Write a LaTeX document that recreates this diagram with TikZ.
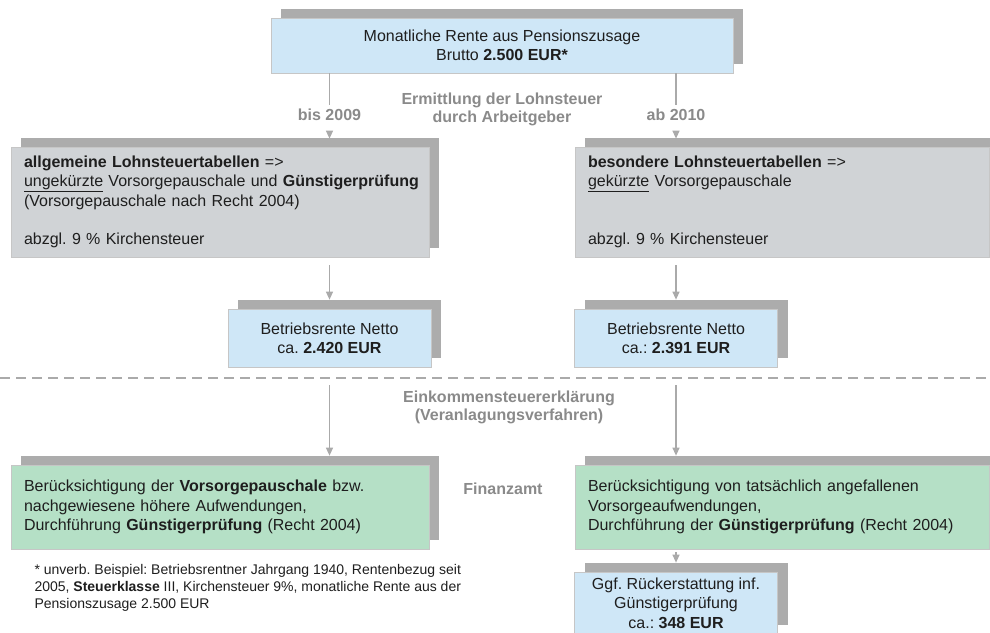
\documentclass[tikz,border=0pt]{standalone}
\usepackage{fontspec}
\setmainfont{Liberation Sans}
\usetikzlibrary{shadows,arrows.meta}
\definecolor{boxblue}{RGB}{207,231,247}
\definecolor{boxgray}{RGB}{208,211,214}
\definecolor{boxgreen}{RGB}{181,224,198}
\definecolor{shadowgray}{RGB}{172,172,172}
\definecolor{linegray}{RGB}{170,170,170}
\definecolor{labelgray}{RGB}{138,138,138}
\definecolor{textblack}{RGB}{30,30,30}

\tikzset{
  box/.style={draw=gray!45,line width=0.7pt,inner ysep=0pt,inner xsep=13pt,text=textblack,
    font=\fontsize{16}{19.3}\selectfont,
    copy shadow={shadow xshift=10pt,shadow yshift=9pt,fill=shadowgray,draw=none}},
  bluebox/.style={box,fill=boxblue,align=center,inner xsep=0pt},
  graybox/.style={box,fill=boxgray,align=left},
  greenbox/.style={box,fill=boxgreen,align=left},
  graylabel/.style={font=\fontsize{16}{18}\selectfont\bfseries,text=labelgray,align=center},
  yearlabel/.style={graylabel,fill=white,inner sep=4pt},
  flow/.style={draw=linegray,line width=1.2pt,-{Triangle[width=7pt,length=8pt]}},
  dashline/.style={draw=linegray,line width=2pt,dash pattern=on 10pt off 6pt}
}

\begin{document}
\frenchspacing
\begin{tikzpicture}[x=1pt,y=-1pt]
\clip (0,0) rectangle (990,632);

\node[bluebox,minimum width=462pt,minimum height=55pt] (rente) at (502,45.5)
  {Monatliche Rente aus Pensionszusage\\Brutto \textbf{2.500 EUR*}};
\node[graylabel] (ermittlung) at (502,109) {Ermittlung der Lohnsteuer\\durch Arbeitgeber};

\node[graybox,minimum width=418pt,minimum height=110pt,text width=392pt] (lstalt) at (220,202)
  {\textbf{allgemeine Lohnsteuertabellen} =>\\\mbox{\underline{ungekürzte} Vorsorgepauschale und \textbf{Günstigerprüfung}}\\(Vorsorgepauschale nach Recht 2004)\\[19.3pt]abzgl. 9 \% Kirchensteuer};
\node[graybox,minimum width=414pt,minimum height=110pt,text width=388pt] (lstneu) at (782,202)
  {\textbf{besondere Lohnsteuertabellen} =>\\\underline{gekürzte} Vorsorgepauschale\\[38.6pt]abzgl. 9 \% Kirchensteuer};

\node[bluebox,minimum width=203pt,minimum height=58pt] (nettoalt) at (329.5,338)
  {Betriebsrente Netto\\ca. \textbf{2.420 EUR}};
\node[bluebox,minimum width=203pt,minimum height=58pt] (nettoneu) at (676,338)
  {Betriebsrente Netto\\ca.: \textbf{2.391 EUR}};

\node[yearlabel] (bis) at (nettoalt |- 0,115) {bis 2009};
\node[yearlabel] (ab) at (nettoneu |- 0,115) {ab 2010};

\coordinate (dashl) at (0,378);
\coordinate (dashr) at (990,378);
\draw[dashline] (dashl) -- (dashr);

\node[graylabel] (veranlagung) at (509,407) {Einkommensteuererklärung\\(Veranlagungsverfahren)};

\node[greenbox,minimum width=418pt,minimum height=84pt,text width=392pt] (estalt) at (220,507)
  {Berücksichtigung der \textbf{Vorsorgepauschale} bzw.\\nachgewiesene höhere Aufwendungen,\\Durchführung \textbf{Günstigerprüfung} (Recht 2004)};
\node[greenbox,minimum width=414pt,minimum height=84pt,text width=388pt] (estneu) at (782,507)
  {Berücksichtigung von tatsächlich angefallenen\\Vorsorgeaufwendungen,\\Durchführung der \textbf{Günstigerprüfung} (Recht 2004)};
\node[graylabel] (finanzamt) at (503,489) {Finanzamt};

\node[bluebox,minimum width=203pt,minimum height=62pt] (erstattung) at (676,603)
  {Ggf. Rückerstattung inf.\\Günstigerprüfung\\ca.: \textbf{348 EUR}};

\node[anchor=west,align=left,text=textblack,font=\fontsize{14}{17}\selectfont] (fussnote) at (31,588)
  {* unverb. Beispiel: Betriebsrentner Jahrgang 1940, Rentenbezug seit\\2005, \textbf{Steuerklasse} III, Kirchensteuer 9\%, monatliche Rente aus der\\Pensionszusage 2.500 EUR};

% Pfeile
\draw[flow,shorten <=9pt,shorten >=8pt] (rente.south -| bis) -- (bis) -- (lstalt.north -| bis);
\draw[flow,shorten <=9pt,shorten >=8pt] (rente.south -| ab) -- (ab) -- (lstneu.north -| ab);
\draw[flow,shorten <=8pt,shorten >=9pt] (lstalt.south -| nettoalt) -- (nettoalt.north);
\draw[flow,shorten <=8pt,shorten >=9pt] (lstneu.south -| nettoneu) -- (nettoneu.north);
\draw[flow,shorten <=7pt,shorten >=9pt] (dashl -| nettoalt) -- (estalt.north -| nettoalt);
\draw[flow,shorten <=7pt,shorten >=9pt] (dashl -| nettoneu) -- (estneu.north -| nettoneu);
\draw[flow,shorten <=3pt,shorten >=9pt] (estneu.south -| erstattung) -- (erstattung.north);
\end{tikzpicture}
\end{document}
